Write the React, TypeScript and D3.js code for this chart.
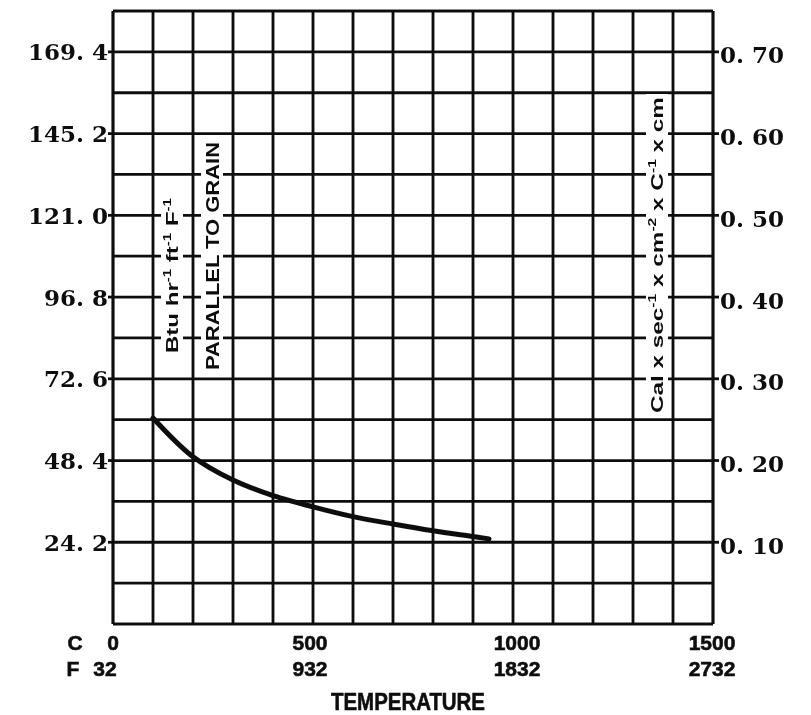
import React from "react";
import * as d3 from "d3";

// ---- data ----
const tempC: number[] = [100, 200, 300, 400, 500, 600, 700, 800, 900, 940];
const conductivity: number[] = [61.0, 49.5, 42.6, 38.0, 34.7, 31.8, 29.6, 27.6, 25.9, 25.2];

const leftTicks: number[] = [24.2, 48.4, 72.6, 96.8, 121.0, 145.2, 169.4];
const leftLabels: string[] = ["24. 2", "48. 4", "72. 6", "96. 8", "121. 0", "145. 2", "169. 4"];
const rightLabels: string[] = ["0. 10", "0. 20", "0. 30", "0. 40", "0. 50", "0. 60", "0. 70"];

const xTicksC: number[] = [0, 500, 1000, 1500];
const xLabelsC: string[] = ["0", "500", "1000", "1500"];
const xLabelsF: string[] = ["32", "932", "1832", "2732"];

const xGridStep = 100;
const yGridStep = 12.1;
const xMax = 1500;
const yMax = 181.5;

export default function App() {
  const W = 811;
  const H = 715;
  const x = d3.scaleLinear().domain([0, xMax]).range([113, 713]);
  const y = d3.scaleLinear().domain([0, yMax]).range([624, 11]);

  const xGrid = d3.range(0, xMax + 1, xGridStep);
  const yGrid = d3.range(0, 16).map((i) => i * yGridStep);

  const line = d3
    .line<number>()
    .x((_, i) => x(tempC[i]))
    .y((d) => y(d))
    .curve(d3.curveCatmullRom.alpha(0.5));

  const ink = "#111";
  const numFont = "'DejaVu Serif', serif";
  const sansFont = "'Liberation Sans', Arial, sans-serif";

  const vText = (
    cx: number,
    bottom: number,
    top: number,
    size: number,
    content: React.ReactNode,
    key: string
  ) => (
    <g key={key}>
      <rect x={cx - 11} y={top - 3} width={22} height={bottom - top + 6} fill="#fff" />
      <text
        transform={`translate(${cx},${bottom}) rotate(-90)`}
        dominantBaseline="central"
        fontFamily={sansFont}
        fontWeight="bold"
        fontSize={size}
        fill={ink}
        textLength={bottom - top}
        lengthAdjust="spacingAndGlyphs"
      >
        {content}
      </text>
    </g>
  );

  const numStyle = {
    fontFamily: numFont,
    fontWeight: "bold" as const,
    fontSize: 23,
    fill: ink,
  };
  const botStyle = {
    fontFamily: sansFont,
    fontWeight: "bold" as const,
    fontSize: 21,
    fill: ink,
    stroke: ink,
    strokeWidth: 0.6,
  };

  return (
    <svg
      width={W}
      height={H}
      style={{ position: "absolute", left: 0, top: 0, background: "#fff" }}
    >
      <defs>
        <filter id="scan" x="-5%" y="-5%" width="110%" height="110%">
          <feGaussianBlur stdDeviation="0.6" />
        </filter>
      </defs>
      <rect width={W} height={H} fill="#fff" />
      <g filter="url(#scan)">
        {/* grid */}
        {xGrid.map((t) => (
          <line
            key={"vx" + t}
            x1={x(t)}
            x2={x(t)}
            y1={y(yMax)}
            y2={y(0)}
            stroke={ink}
            strokeWidth={t === 0 || t === xMax ? 3.2 : 2.8}
          />
        ))}
        {yGrid.map((v, i) => (
          <line
            key={"hy" + i}
            x1={x(0)}
            x2={x(xMax)}
            y1={y(v)}
            y2={y(v)}
            stroke={ink}
            strokeWidth={i === 0 || i === 15 ? 3.2 : 2.8}
          />
        ))}
        {/* ticks at labelled values */}
        {leftTicks.map((v) => (
          <g key={"tk" + v}>
            <line x1={x(0) - 5} x2={x(0)} y1={y(v)} y2={y(v)} stroke={ink} strokeWidth={2.8} />
            <line x1={x(xMax)} x2={x(xMax) + 6} y1={y(v)} y2={y(v)} stroke={ink} strokeWidth={2.8} />
          </g>
        ))}

        {/* vertical annotations */}
        {vText(
          172,
          353,
          198,
          16,
          <>
            Btu hr<tspan dy={-5} fontSize={10}>-1</tspan>
            <tspan dy={5}> ft</tspan>
            <tspan dy={-5} fontSize={10}>-1</tspan>
            <tspan dy={5}> F</tspan>
            <tspan dy={-5} fontSize={10}>-1</tspan>
          </>,
          "btu"
        )}
        {vText(212, 370, 142, 19, "PARALLEL TO GRAIN", "par")}
        {vText(
          657,
          413,
          97,
          17,
          <>
            Cal x sec<tspan dy={-5} fontSize={11}>-1</tspan>
            <tspan dy={5}> x cm</tspan>
            <tspan dy={-5} fontSize={11}>-2</tspan>
            <tspan dy={5}> x C</tspan>
            <tspan dy={-5} fontSize={11}>-1</tspan>
            <tspan dy={5}> x cm</tspan>
          </>,
          "cal"
        )}

        {/* curve */}
        <path
          d={line(conductivity) || ""}
          fill="none"
          stroke={ink}
          strokeWidth={5}
          strokeLinecap="round"
        />

        {/* left axis labels */}
        {leftTicks.map((v, i) => (
          <text
            key={"ll" + v}
            x={108}
            y={y(v)}
            textAnchor="end"
            dominantBaseline="central"
            {...numStyle}
          >
            {leftLabels[i]}
          </text>
        ))}
        {/* right axis labels */}
        {leftTicks.map((v, i) => (
          <text
            key={"rl" + v}
            x={720}
            y={y(v) + 3}
            textAnchor="start"
            dominantBaseline="central"
            {...numStyle}
          >
            {rightLabels[i]}
          </text>
        ))}

        {/* bottom axis labels */}
        <text x={75} y={650} textAnchor="middle" {...botStyle}>
          C
        </text>
        <text x={73} y={676} textAnchor="middle" {...botStyle}>
          F
        </text>
        {xTicksC.map((t, i) => (
          <g key={"xl" + t}>
            <text
              x={i === 0 ? x(t) : x(t) + (i === 2 ? 4 : i === 3 ? -1 : -3)}
              y={650}
              textAnchor="middle"
              {...botStyle}
            >
              {xLabelsC[i]}
            </text>
            <text
              x={i === 0 ? x(t) - 8 : x(t) + (i === 2 ? 4 : i === 3 ? -1 : -3)}
              y={676}
              textAnchor="middle"
              {...botStyle}
            >
              {xLabelsF[i]}
            </text>
          </g>
        ))}
        <text
          x={408}
          y={710}
          textAnchor="middle"
          {...botStyle}
          fontSize={24}
          textLength={154}
          lengthAdjust="spacingAndGlyphs"
        >
          TEMPERATURE
        </text>
      </g>
    </svg>
  );
}
